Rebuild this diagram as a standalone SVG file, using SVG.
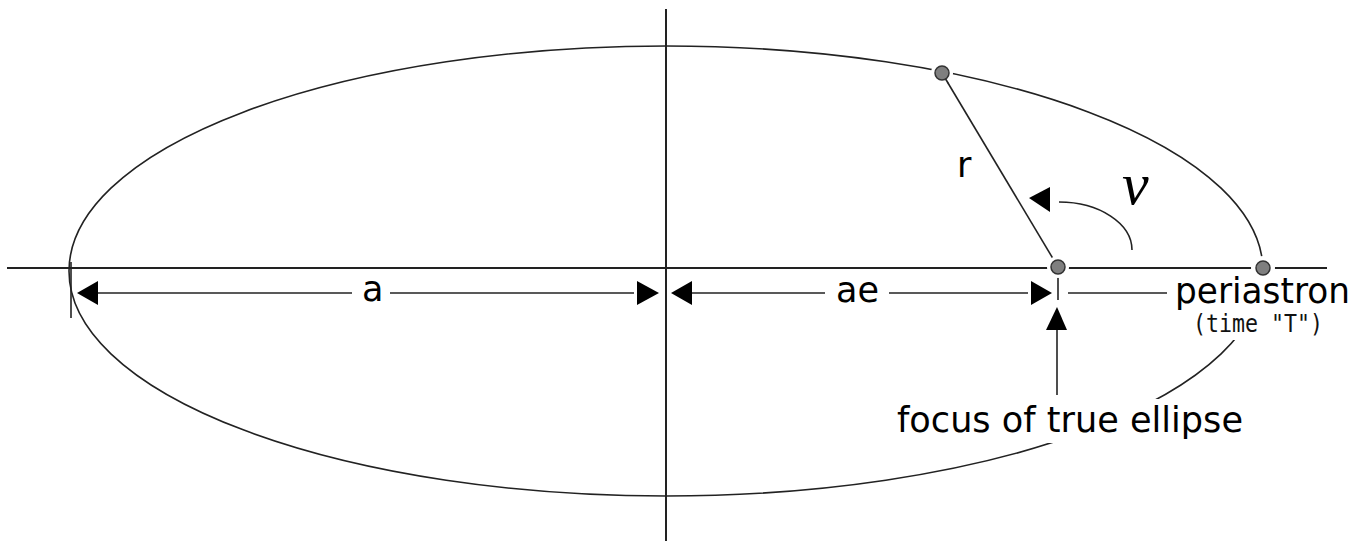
<svg xmlns="http://www.w3.org/2000/svg" width="1370" height="544" viewBox="0 0 1370 544">
<style>
.ln{stroke:#222;stroke-width:1.6;fill:none}
.ax{stroke:#222;stroke-width:2;fill:none}
.ah{fill:#000;stroke:none}
.lbl{font-family:"DejaVu Sans","Verdana",sans-serif;font-size:35px;fill:#000}
.sm{font-family:"DejaVu Sans Mono","Liberation Mono",monospace;font-size:24px;fill:#111}
.halo{fill:#fff;stroke:none}
.dot{fill:#7f7f7f;stroke:#333;stroke-width:1.5}
.bg{fill:#fff;stroke:none}
</style>
<rect width="1370" height="544" fill="#fff"/>
<g id="axes">
<line class="ax" x1="7" y1="268" x2="1327" y2="268"/>
<line class="ax" x1="666" y1="9" x2="666" y2="541"/>
</g>
<g id="orbit">
<ellipse class="ln" cx="666" cy="271" rx="597" ry="225"/>
</g>
<g id="connectors">
<line class="ln" x1="942" y1="73" x2="1058" y2="267"/>
<line class="ln" x1="71" y1="262" x2="71" y2="318"/>
<line class="ln" x1="1058" y1="275" x2="1058" y2="300"/>
<polygon class="ah" points="77,293 98,281 98,305"/>
<line class="ln" x1="98" y1="293" x2="352" y2="293"/>
<line class="ln" x1="390" y1="293" x2="634" y2="293"/>
<polygon class="ah" points="659,293 637,281 637,305"/>
<polygon class="ah" points="671,293 692,281 692,305"/>
<line class="ln" x1="692" y1="293" x2="825" y2="293"/>
<line class="ln" x1="889" y1="293" x2="1028" y2="293"/>
<polygon class="ah" points="1052,293 1031,281 1031,305"/>
<line class="ln" x1="1068" y1="293" x2="1167" y2="293"/>
<line class="ln" x1="1057" y1="395" x2="1057" y2="328"/>
<polygon class="ah" points="1057,307 1046,330 1067,330"/>
<path class="ln" d="M1132,250 A73,48 0 0 0 1059,202"/>
<polygon class="ah" points="1029,198 1050,187 1050,212"/>
</g>
<g id="point-top">
<circle class="halo" cx="942" cy="73" r="11"/>
<line class="ln" x1="942" y1="73" x2="948" y2="83"/>
<circle class="dot" cx="942" cy="73" r="7"/>
</g>
<g id="point-focus">
<circle class="halo" cx="1058" cy="267" r="11"/>
<circle class="dot" cx="1058" cy="267" r="7"/>
</g>
<g id="point-periastron">
<circle class="halo" cx="1263" cy="268" r="12"/>
<circle class="dot" cx="1263" cy="268" r="7"/>
</g>
<g id="label-periastron">
<rect class="bg" x="1170" y="277" width="185" height="63"/>
<text class="lbl" x="1175" y="303" font-size="34" textLength="175" lengthAdjust="spacingAndGlyphs">periastron</text>
<text class="sm" x="1193" y="332" textLength="130" lengthAdjust="spacingAndGlyphs">(time "T")</text>
</g>
<g id="label-focus">
<rect class="bg" x="890" y="399" width="360" height="44"/>
<text class="lbl" x="897" y="432" textLength="346" lengthAdjust="spacingAndGlyphs">focus of true ellipse</text>
</g>
<g id="label-a"><text class="lbl" x="362" y="301" font-size="34">a</text></g>
<g id="label-ae"><text class="lbl" x="836" y="302" font-size="34">ae</text></g>
<g id="label-r"><text class="lbl" x="957" y="177">r</text></g>
<g id="label-nu"><text x="1122" y="204" font-family="Liberation Serif, serif" font-style="italic" font-size="60" fill="#000">ν</text></g>
</svg>
